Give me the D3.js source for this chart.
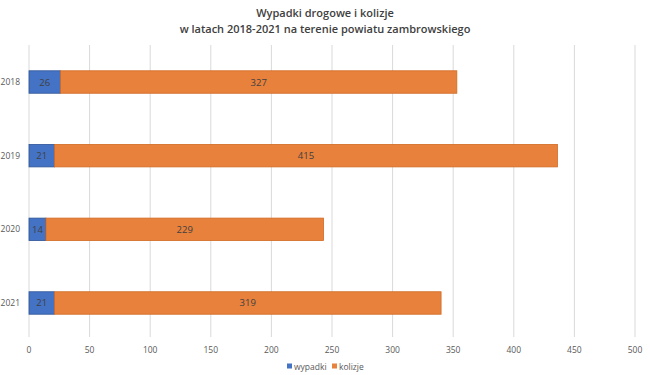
<!DOCTYPE html>
<html>
<head>
<meta charset="utf-8">
<script src="https://cdn.jsdelivr.net/npm/d3@7"></script>
<style>
  body { margin: 0; background: #fff; }
  text { font-family: "Open Sans", "Liberation Sans", sans-serif; }
</style>
</head>
<body>
<div id="chart"></div>
<script>
// data
var years = ["2018", "2019", "2020", "2021"];
var wypadki = [26, 21, 14, 21];
var kolizje = [327, 415, 229, 319];
var seriesNames = ["wypadki", "kolizje"];
var colors = ["#4472C4", "#E8813C"];
var strokes = ["#2F5597", "#D06A22"];
var xTicks = [0, 50, 100, 150, 200, 250, 300, 350, 400, 450, 500];

var width = 650, height = 375;
var margin = {top: 45, right: 15, bottom: 35, left: 29};
var w = width - margin.left - margin.right,
    h = height - margin.top - margin.bottom;

var svg = d3.select("#chart").append("svg")
    .attr("width", width)
    .attr("height", height);

// title
var title = svg.append("text")
    .attr("x", 325)
    .attr("text-anchor", "middle")
    .attr("fill", "#404040")
    .style("font-size", "11px")
    .style("font-weight", "600");
title.append("tspan").attr("x", 325).attr("y", 17).text("Wypadki drogowe i kolizje");
title.append("tspan").attr("x", 325).attr("y", 33).text("w latach 2018-2021 na terenie powiatu zambrowskiego");

var g = svg.append("g").attr("transform", "translate(" + margin.left + "," + margin.top + ")");

var x = d3.scaleLinear().domain([0, 500]).range([0, 606]);
var y = d3.scaleBand().domain(years).range([0, h]).paddingInner(0.695).paddingOuter(0.35);

// grid
g.selectAll(".grid")
    .data(xTicks)
  .enter().append("line")
    .attr("x1", function(d){ return x(d); })
    .attr("x2", function(d){ return x(d); })
    .attr("y1", 0)
    .attr("y2", h - 3)
    .attr("stroke", "#d9d9d9")
    .attr("stroke-width", 1);

// x labels
g.selectAll(".xl")
    .data(xTicks)
  .enter().append("text")
    .attr("x", function(d){ return x(d); })
    .attr("y", h + 13)
    .attr("text-anchor", "middle")
    .attr("fill", "#595959")
    .style("font-size", "8.5px")
    .text(function(d){ return d; });

// y labels
g.selectAll(".yl")
    .data(years)
  .enter().append("text")
    .attr("x", -9)
    .attr("y", function(d){ return y(d) + y.bandwidth() / 2 + 3; })
    .attr("text-anchor", "end")
    .attr("fill", "#595959")
    .style("font-size", "8.5px")
    .text(function(d){ return d; });

var rows = years.map(function(yr, i){ return {year: yr, wypadki: wypadki[i], kolizje: kolizje[i]}; });
var stack = d3.stack().keys(seriesNames)(rows);

stack.forEach(function(layer, si){
  var lg = g.append("g");
  lg.selectAll("rect")
      .data(layer)
    .enter().append("rect")
      .attr("x", function(d){ return x(d[0]); })
      .attr("y", function(d){ return y(d.data.year); })
      .attr("width", function(d){ return x(d[1]) - x(d[0]); })
      .attr("height", y.bandwidth())
      .attr("fill", colors[si])
      .attr("stroke", strokes[si])
      .attr("stroke-width", 0.8);
  lg.selectAll("text")
      .data(layer)
    .enter().append("text")
      .attr("x", function(d){ return x((d[0] + d[1]) / 2); })
      .attr("y", function(d){ return y(d.data.year) + y.bandwidth() / 2 + 3.5; })
      .attr("text-anchor", "middle")
      .attr("fill", "#404040")
      .style("font-size", "9.5px")
      .text(function(d){ return d.data[layer.key]; });
});

// legend
var legend = svg.append("g");
var lx = [287, 332];
seriesNames.forEach(function(n, i){
  legend.append("rect")
      .attr("x", lx[i])
      .attr("y", 363.5)
      .attr("width", 5)
      .attr("height", 5)
      .attr("fill", colors[i]);
  legend.append("text")
      .attr("x", lx[i] + 7)
      .attr("y", 369.5)
      .attr("fill", "#595959")
      .style("font-size", "8.5px")
      .text(n);
});
</script>
</body>
</html>
